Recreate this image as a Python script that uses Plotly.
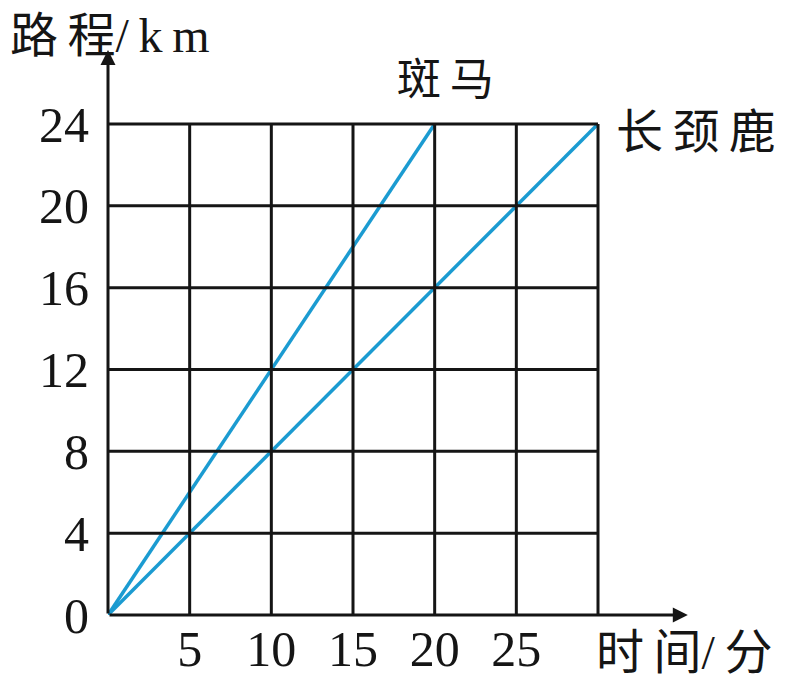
import plotly.graph_objects as go

# Data
time_ticks = [5, 10, 15, 20, 25]
grid_x = [0, 5, 10, 15, 20, 25, 30]
dist_ticks = [0, 4, 8, 12, 16, 20, 24]
zebra_time = [0, 20]
zebra_dist = [0, 24]
giraffe_time = [0, 30]
giraffe_dist = [0, 24]

OFF = 8                      # page body margin in the browser
W, H = 791 - OFF, 678 - OFF  # figure size


def px(p):
    return (p - OFF) / W


def py(p):
    return 1 - (p - OFF) / H


X0, X1 = 108, 696   # reference pixel positions of x range ends
Y0, Y1 = 615, 40    # reference pixel positions of y range ends
XR = [0, (X1 - X0) / ((598 - 108) / 30)]
YR = [0, (Y0 - Y1) / ((615 - 124) / 24)]

blue = "#1b9bd1"
black = "#151515"
serif = "Liberation Serif, Times New Roman, serif"
cjk = "Liberation Serif, Noto Sans CJK SC, serif"
sp = "\u2009"

fig = go.Figure()

shapes = []
for gx in grid_x[1:]:
    shapes.append(dict(type="line", xref="x", yref="y", x0=gx, x1=gx, y0=0, y1=24,
                       line=dict(color=black, width=3)))
for gy in dist_ticks[1:]:
    shapes.append(dict(type="line", xref="x", yref="y", x0=0, x1=30, y0=gy, y1=gy,
                       line=dict(color=black, width=3)))

fig.add_trace(go.Scatter(x=zebra_time, y=zebra_dist, mode="lines",
                         line=dict(color=blue, width=3.5), showlegend=False, hoverinfo="skip"))
fig.add_trace(go.Scatter(x=giraffe_time, y=giraffe_dist, mode="lines",
                         line=dict(color=blue, width=3.5), showlegend=False, hoverinfo="skip"))

annotations = [
    # axes with arrows
    dict(x=35.5, y=0, ax=0, ay=0, xref="x", yref="y", axref="x", ayref="y",
         text="", showarrow=True, arrowhead=2, arrowsize=1, arrowwidth=3, arrowcolor=black),
    dict(x=0, y=(Y0 - 50) / ((615 - 124) / 24), ax=0, ay=0, xref="x", yref="y", axref="x", ayref="y",
         text="", showarrow=True, arrowhead=2, arrowsize=1, arrowwidth=3, arrowcolor=black),
    # labels
    dict(x=px(8), y=py(35), xref="paper", yref="paper", xanchor="left", yanchor="middle",
         text="路" + sp + "程/" + sp + "k" + sp + "m", showarrow=False,
         font=dict(family=cjk, size=48, color=black)),
    dict(x=px(594), y=py(652), xref="paper", yref="paper", xanchor="left", yanchor="middle",
         text="时" + sp + "间/" + sp + "分", showarrow=False, font=dict(family=cjk, size=48, color=black)),
    dict(x=px(446), y=py(80), xref="paper", yref="paper", xanchor="center", yanchor="middle",
         text="斑" + sp + "马", showarrow=False, font=dict(family=cjk, size=44, color=black)),
    dict(x=px(614), y=py(132), xref="paper", yref="paper", xanchor="left", yanchor="middle",
         text="长" + sp + "颈" + sp + "鹿", showarrow=False, font=dict(family=cjk, size=47, color=black)),
]

fig.update_layout(
    width=W, height=H,
    margin=dict(l=0, r=0, t=0, b=0, autoexpand=False),
    paper_bgcolor="white", plot_bgcolor="white",
    shapes=shapes, annotations=annotations,
    xaxis=dict(domain=[px(X0), px(X1)], range=XR, showgrid=False, zeroline=False,
               showline=False, tickvals=time_ticks, ticktext=[str(t) for t in time_ticks],
               ticks="", ticklabelstandoff=0, automargin=False,
               tickfont=dict(family=serif, size=50, color=black)),
    yaxis=dict(domain=[py(Y0), py(Y1)], range=YR, showgrid=False, zeroline=False,
               showline=False, tickvals=dist_ticks, ticktext=[str(t) for t in dist_ticks],
               ticks="", ticklabelstandoff=18, automargin=False,
               tickfont=dict(family=serif, size=50, color=black)),
)

fig.write_html("out.html")
